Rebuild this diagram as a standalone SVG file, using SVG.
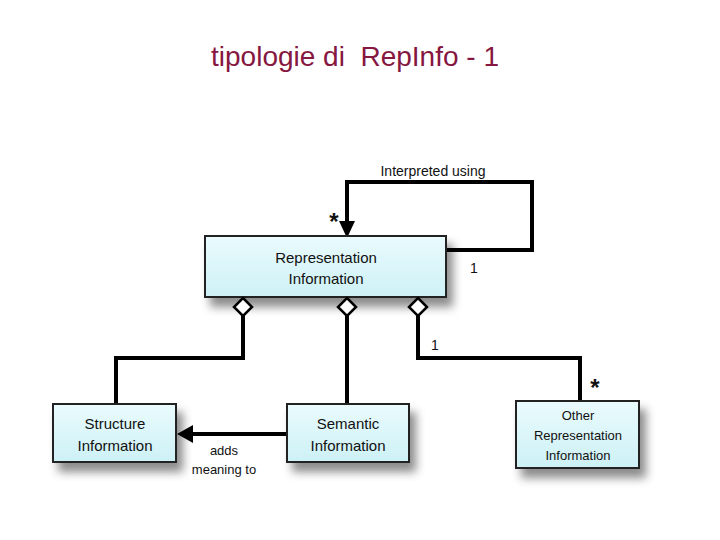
<svg xmlns="http://www.w3.org/2000/svg" width="720" height="540" viewBox="0 0 720 540">
<defs>
<linearGradient id="g" x1="0" y1="0" x2="0" y2="1">
<stop offset="0" stop-color="#EAFBFD"/>
<stop offset="1" stop-color="#CDF1F6"/>
</linearGradient>
<filter id="sh" x="-20%" y="-20%" width="150%" height="180%">
<feDropShadow dx="6" dy="9" stdDeviation="5" flood-color="#000" flood-opacity="0.45"/>
</filter>
</defs>
<style>
.box{fill:url(#g);stroke:#222;stroke-width:2;filter:url(#sh)}
.t{font-family:"Liberation Sans",Arial,sans-serif;font-size:15px;fill:#111;text-anchor:middle}
.s{font-family:"Liberation Sans",Arial,sans-serif;font-size:13px;fill:#111;text-anchor:middle}
.n{font-family:"Liberation Sans",Arial,sans-serif;font-size:14px;fill:#111;text-anchor:middle}
.a{font-family:"Liberation Sans",Arial,sans-serif;font-size:24px;font-weight:bold;fill:#111;text-anchor:middle}
.c{fill:none;stroke:#000;stroke-width:4}
.d{fill:#fff;stroke:#000;stroke-width:2.5}
</style>
<rect width="720" height="540" fill="#fff"/>
<text x="355" y="66" font-family="Liberation Sans,Arial,sans-serif" font-size="28" fill="#861740" text-anchor="middle" xml:space="preserve">tipologie di  RepInfo - 1</text>

<g id="connectors">
<polyline class="c" points="446,250 532,250 532,182 347,182 347,222"/>
<path d="M339,221 L355,221 L347,238 Z" fill="#000"/>
<polyline class="c" points="243,316 243,358 116,358 116,404"/>
<polyline class="c" points="347,316 347,404"/>
<polyline class="c" points="418,316 418,358 580,358 580,402"/>
<line class="c" x1="287" y1="434" x2="192" y2="434"/>
<path d="M193,425 L193,443 L177,434 Z" fill="#000"/>
<text class="n" x="433" y="176">Interpreted using</text>
<text class="a" x="334" y="230">*</text>
<text class="n" x="474" y="273">1</text>
<text class="n" x="435" y="350">1</text>
<text class="a" x="595" y="396">*</text>
<text class="s" x="224" y="455">adds</text>
<text class="s" x="224" y="474">meaning to</text>
</g>

<g id="rep">
<rect class="box" x="205" y="236" width="241" height="61"/>
<text class="t" x="326" y="263">Representation</text>
<text class="t" x="326" y="284">Information</text>
<path class="d" d="M243,298 L252,307 L243,316 L234,307 Z"/>
<path class="d" d="M347,298 L356,307 L347,316 L338,307 Z"/>
<path class="d" d="M418,298 L427,307 L418,316 L409,307 Z"/>
</g>
<g id="structure">
<rect class="box" x="53" y="404" width="123" height="58"/>
<text class="t" x="115" y="429">Structure</text>
<text class="t" x="115" y="451">Information</text>
</g>
<g id="semantic">
<rect class="box" x="287" y="404" width="122" height="58"/>
<text class="t" x="348" y="429">Semantic</text>
<text class="t" x="348" y="451">Information</text>
</g>
<g id="other">
<rect class="box" x="516" y="401" width="123" height="67"/>
<text class="s" x="578" y="420">Other</text>
<text class="s" x="578" y="440">Representation</text>
<text class="s" x="578" y="460">Information</text>
</g>
</svg>
